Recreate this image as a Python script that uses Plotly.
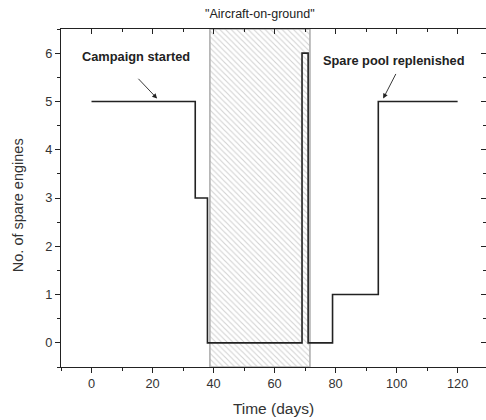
import plotly.graph_objects as go

# ---- data ----
time_days = [0, 34, 38, 69, 71, 79, 94, 120]
spare_engines = [5, 3, 0, 6, 0, 1, 5, 5]
aog_start, aog_end = 38.8, 71.6
x_ticks = [0, 20, 40, 60, 80, 100, 120]
y_ticks = [0, 1, 2, 3, 4, 5, 6]
x_range = [-10, 129.3]
y_range = [-0.5, 6.5]

FONT = "Arial, Liberation Sans, sans-serif"
INK = "#222222"
TXT = "#333333"

fig = go.Figure()

# Aircraft-on-ground shaded period
fig.add_trace(go.Scatter(
    x=[aog_start, aog_end, aog_end, aog_start, aog_start],
    y=[y_range[0], y_range[0], y_range[1], y_range[1], y_range[0]],
    mode="lines", fill="toself", fillcolor="white",
    fillpattern=dict(shape="\\", fgcolor="#a5a5a5", bgcolor="white",
                     size=4, solidity=0.28),
    line=dict(color="#b0b0b0", width=1.6),
    hoverinfo="skip", showlegend=False))

# spare engines step line
fig.add_trace(go.Scatter(
    x=time_days, y=spare_engines, mode="lines",
    line=dict(color=INK, width=1.6, shape="hv"),
    showlegend=False))

# dummy trace for mirrored axes
fig.add_trace(go.Scatter(x=[], y=[], xaxis="x2", yaxis="y2",
                         showlegend=False, hoverinfo="skip"))

axis_common = dict(showgrid=False, zeroline=False, linecolor=INK, linewidth=1.2,
                   tickcolor=INK, tickwidth=1.1,
                   tickfont=dict(family=FONT, size=12.8, color=TXT))

fig.update_layout(
    width=486, height=420,
    margin=dict(l=61, r=0, t=29, b=53),
    paper_bgcolor="white", plot_bgcolor="white",
    xaxis=dict(range=x_range, tickvals=x_ticks, ticks="outside", ticklen=5,
               showline=True,
               minor=dict(dtick=10, tick0=0, ticks="outside", ticklen=3,
                          tickcolor=INK, tickwidth=1.1),
               title=dict(text="Time (days)", standoff=12,
                          font=dict(family=FONT, size=15.5, color=TXT)),
               **axis_common),
    yaxis=dict(range=y_range, tickvals=y_ticks, ticks="outside", ticklen=5,
               showline=True,
               minor=dict(dtick=0.5, tick0=0, ticks="outside", ticklen=3,
                          tickcolor=INK, tickwidth=1.1),
               **axis_common),
    xaxis2=dict(range=x_range, overlaying="x", side="top", anchor="y",
                tickvals=x_ticks, ticks="inside", ticklen=5, showline=True,
                showticklabels=False,
                minor=dict(dtick=10, tick0=0, ticks="inside", ticklen=3,
                           tickcolor=INK, tickwidth=1.1),
                **axis_common),
    yaxis2=dict(range=y_range, overlaying="y", side="right", anchor="x",
                tickvals=y_ticks, ticks="inside", ticklen=5, showline=False,
                showticklabels=False,
                minor=dict(dtick=0.5, tick0=0, ticks="inside", ticklen=3,
                           tickcolor=INK, tickwidth=1.1),
                **axis_common),
)

# y-axis title as annotation for exact placement
fig.add_annotation(x=-0.101, y=0.479, xref="paper", yref="paper",
                   xanchor="center", yanchor="middle",
                   text="No. of spare engines", textangle=-90, showarrow=False,
                   font=dict(family=FONT, size=14.5, color=TXT))

ann_font = dict(family=FONT, size=12.8, color=INK)
fig.add_annotation(x=14.5, y=5.94, text="<b>Campaign started</b>",
                   showarrow=False, font=ann_font)
fig.add_annotation(x=21.5, y=5.06, ax=14.9, ay=5.5, axref="x", ayref="y",
                   text="", showarrow=True, arrowhead=2, arrowsize=1.1,
                   arrowwidth=0.9, arrowcolor=INK)
fig.add_annotation(x=99.1, y=5.84, text="<b>Spare pool replenished</b>",
                   showarrow=False, font=ann_font)
fig.add_annotation(x=95.6, y=5.06, ax=100.0, ay=5.6, axref="x", ayref="y",
                   text="", showarrow=True, arrowhead=2, arrowsize=1.1,
                   arrowwidth=0.9, arrowcolor=INK)
fig.add_annotation(x=(aog_start + aog_end) / 2, y=1.07, yref="paper",
                   text="\"Aircraft-on-ground\"", showarrow=False,
                   font=dict(family=FONT, size=12.5, color=INK))

fig.write_html("out.html")
